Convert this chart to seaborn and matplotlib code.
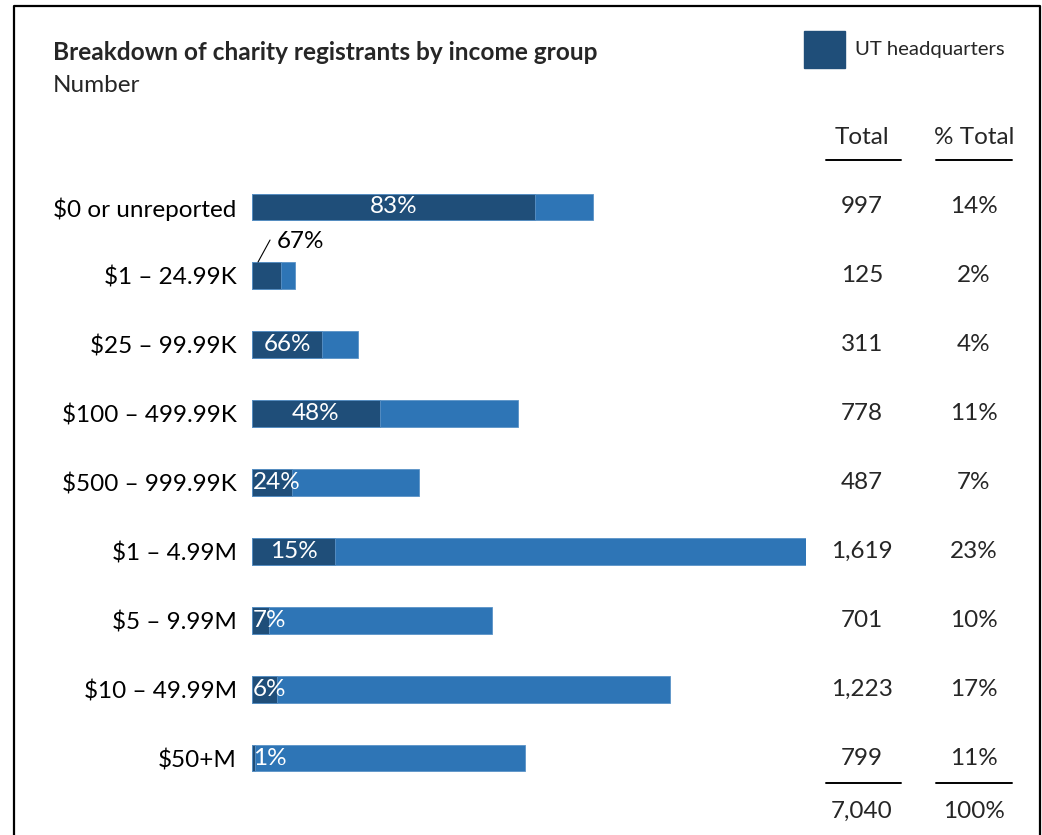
import numpy as np
import pandas as pd
import seaborn as sns
import matplotlib.pyplot as plt
from matplotlib.patches import Rectangle
from matplotlib.lines import Line2D
from matplotlib.transforms import blended_transform_factory

# DATE
categories = ["$0 or unreported", "$1 – 24.99K", "$25 – 99.99K", "$100 – 499.99K",
              "$500 – 999.99K", "$1 – 4.99M", "$5 – 9.99M", "$10 – 49.99M", "$50+M"]
totals = [997, 125, 311, 778, 487, 1619, 701, 1223, 799]
ut_share = [83, 67, 66, 48, 24, 15, 7, 6, 1]
pct_total = [14, 2, 4, 11, 7, 23, 10, 17, 11]
grand_pct = "100%"

dark = "#1F4E79"
light = "#2E75B6"

df = pd.DataFrame({"group": categories, "total": totals, "share": ut_share, "pct": pct_total})
df["ut"] = df["total"] * df["share"] / 100

sns.set_theme(style="white")
plt.rcParams["font.family"] = ["Lato", "DejaVu Sans"]

W, H = 1042, 835
fig = plt.figure(figsize=(W / 100, H / 100), dpi=100)

def fx(px):
    return px / W

def fy(py):
    return 1 - py / H

FS = 17.5

ax = fig.add_axes([fx(252), fy(792.5), fx(806) - fx(252), (792.5 - 172.5) / H])

# BARE
sns.barplot(data=df, y="group", x="total", color=light, width=0.39, orient="h",
            edgecolor="#5B93C7", linewidth=0.6, saturation=1, ax=ax)
sns.barplot(data=df, y="group", x="ut", color=dark, width=0.39, orient="h",
            edgecolor="#5B93C7", linewidth=0.6, saturation=1, ax=ax)
ax.set_xlim(0, max(totals))
ax.set_ylim(len(categories) - 0.5, -0.5)
ax.set_xlabel("")
ax.set_ylabel("")
ax.set_xticks([])
ax.tick_params(axis="y", length=0, pad=11, labelsize=FS, labelcolor="black")
for s in ax.spines.values():
    s.set_visible(False)

# ETICHETE PROCENT UT
for i in range(len(df)):
    ut = df["ut"].iloc[i]
    label = f"{df['share'].iloc[i]}%"
    if df["total"].iloc[i] < 200:
        ax.plot([ut * 0.21, ut * 0.63], [i - 0.2, i - 0.52], color="black", lw=0.8)
        ax.text(ut * 0.87, i - 0.5, label, ha="left", va="center", fontsize=FS, color="black")
    elif ut > 150:
        ax.text(ut / 2, i, label, ha="center", va="center", fontsize=FS, color="white")
    else:
        ax.text(2, i, label, ha="left", va="center", fontsize=FS, color="white")

# COLOANE TOTAL / % TOTAL
tr = blended_transform_factory(fig.transFigure, ax.transData)
for i in range(len(df)):
    ax.text(fx(862), i, f"{df['total'].iloc[i]:,}", transform=tr, ha="center", va="center", fontsize=FS)
    ax.text(fx(974), i, f"{df['pct'].iloc[i]}%", transform=tr, ha="center", va="center", fontsize=FS)

fig.text(fx(862), fy(138), "Total", ha="center", va="center", fontsize=FS)
fig.text(fx(974), fy(138), "% Total", ha="center", va="center", fontsize=FS)
fig.text(fx(862), fy(811), f"{sum(totals):,}", ha="center", va="center", fontsize=FS)
fig.text(fx(974), fy(811), grand_pct, ha="center", va="center", fontsize=FS)
for y in (160, 783):
    fig.add_artist(Line2D([fx(826), fx(901)], [fy(y), fy(y)], color="black", lw=1.4))
    fig.add_artist(Line2D([fx(936), fx(1012)], [fy(y), fy(y)], color="black", lw=1.4))

# TITLU SI LEGENDA
fig.text(fx(53), fy(53), "Breakdown of charity registrants by income group",
         ha="left", va="center", fontsize=17.6, fontweight="bold")
fig.text(fx(53), fy(85), "Number", ha="left", va="center", fontsize=FS)
fig.add_artist(Rectangle((fx(804), fy(68)), fx(845) - fx(804), (68 - 31) / H,
                         transform=fig.transFigure, color=dark))
fig.text(fx(855), fy(50), "UT headquarters", ha="left", va="center", fontsize=14.6)

# CHENAR
fig.add_artist(Line2D([fx(14), fx(14), fx(1040), fx(1040)], [0, fy(6), fy(6), 0],
                      color="black", lw=1.6))

fig.savefig("out.png", dpi=100)
